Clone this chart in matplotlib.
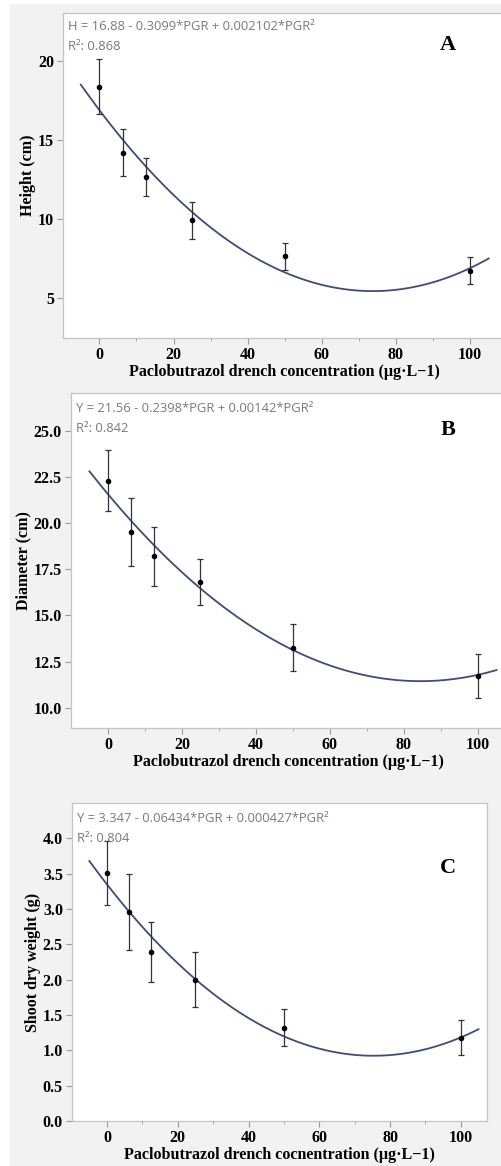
import numpy as np
import matplotlib
matplotlib.use("Agg")
import matplotlib.pyplot as plt
from matplotlib.patches import Rectangle

# doses of paclobutrazol (ug/L)
pgr = [0, 6.25, 12.5, 25, 50, 100]

# panel A - height (cm)
height_mean = [18.35, 14.2, 12.68, 9.92, 7.67, 6.75]
height_err = [1.72, 1.46, 1.2, 1.15, 0.85, 0.87]
height_coef = [16.88, -0.3099, 0.002102]

# panel B - diameter (cm)
diam_mean = [22.3, 19.5, 18.19, 16.79, 13.25, 11.73]
diam_err = [1.67, 1.83, 1.6, 1.25, 1.28, 1.19]
diam_coef = [21.56, -0.2398, 0.00142]

# panel C - shoot dry weight (g)
sdw_mean = [3.51, 2.96, 2.39, 2.0, 1.32, 1.18]
sdw_err = [0.45, 0.54, 0.43, 0.39, 0.26, 0.25]
sdw_coef = [3.347, -0.06434, 0.000427]

eq_a = "H = 16.88 - 0.3099*PGR + 0.002102*PGR\u00b2"
eq_b = "Y = 21.56 - 0.2398*PGR + 0.00142*PGR\u00b2"
eq_c = "Y = 3.347 - 0.06434*PGR + 0.000427*PGR\u00b2"
r2_a = "R\u00b2: 0.868"
r2_b = "R\u00b2: 0.842"
r2_c = "R\u00b2: 0.804"

serif = ["Liberation Serif", "DejaVu Serif"]
sans = ["Open Sans", "DejaVu Sans"]

W, H = 502, 1166
fig = plt.figure(figsize=(W / 100, H / 100), dpi=100)
fig.patch.set_facecolor("white")
fig.patches.append(Rectangle((10 / W, 0), 1, 1 - 4 / H, transform=fig.transFigure,
                             facecolor="#f2f2f2", edgecolor="none", zorder=-10))


def box(l, t, r, b):
    return [l / W, 1 - b / H, (r - l) / W, (b - t) / H]


def panel(pos, mean, err, coef, xlim, ylim, yticks, yfmt, ylabel, xlabel,
          eq, r2, letter, eq_xy, letter_xy, ylabelpad):
    ax = fig.add_axes(box(*pos))
    ax.set_facecolor("white")
    xs = np.linspace(-5, 105, 200)
    ax.plot(xs, coef[0] + coef[1] * xs + coef[2] * xs ** 2, color="#3e4d78", lw=1.3, zorder=2)
    ax.errorbar(pgr, mean, yerr=err, fmt="o", color="black", ecolor="#333333",
                elinewidth=0.9, capsize=2.2, capthick=0.9, markersize=3, zorder=3)
    ax.set_xlim(*xlim)
    ax.set_ylim(*ylim)
    ax.set_xticks([0, 20, 40, 60, 80, 100])
    ax.set_xticks([10, 30, 50, 70, 90], minor=True)
    ax.set_yticks(yticks)
    ax.set_yticklabels([yfmt.format(v) for v in yticks])
    for s in ax.spines.values():
        s.set_color("#c4c4c4")
        s.set_linewidth(0.9)
    ax.tick_params(which="major", length=4, color="#999999", labelsize=11.5, pad=2.5)
    ax.tick_params(which="minor", length=2.5, color="#999999")
    for lab in ax.get_xticklabels() + ax.get_yticklabels():
        lab.set_family(serif)
        lab.set_fontweight("bold")
    ax.set_xlabel(xlabel, family=serif, fontweight="bold", fontsize=11.5, labelpad=1)
    ax.set_ylabel(ylabel, family=serif, fontweight="bold", fontsize=11.5, labelpad=ylabelpad)
    fig.text(eq_xy[0] / W, 1 - eq_xy[1] / H, eq, family=sans, fontsize=9.4,
             color="#7a7a7a", va="center", ha="left")
    fig.text(eq_xy[0] / W, 1 - (eq_xy[1] + 20) / H, r2, family=sans, fontsize=9.4,
             color="#7a7a7a", va="center", ha="left")
    fig.text(letter_xy[0] / W, 1 - letter_xy[1] / H, letter, family=serif,
             fontweight="bold", fontsize=16, va="center", ha="center")
    return ax


xlab = "Paclobutrazol drench concentration (\u00b5g\u00b7L\u22121)"
xlab_c = "Paclobutrazol drench cocnentration (\u00b5g\u00b7L\u22121)"

panel((63, 13, 505, 338), height_mean, height_err, height_coef,
      (-9.8, 109.4), (2.5, 23.0), [5, 10, 15, 20], "{:.0f}", "Height (cm)", xlab,
      eq_a, r2_a, "A", (68, 27), (448, 45), 1)
panel((71, 393, 505, 728), diam_mean, diam_err, diam_coef,
      (-10.0, 107.3), (8.9, 27.04), [10, 12.5, 15, 17.5, 20, 22.5, 25], "{:.1f}",
      "Diameter (cm)", xlab, eq_b, r2_b, "B", (76, 409), (448, 430), 2)
panel((72, 803, 487, 1121), sdw_mean, sdw_err, sdw_coef,
      (-9.9, 107.4), (0, 4.5), [0, 0.5, 1, 1.5, 2, 2.5, 3, 3.5, 4], "{:.1f}",
      "Shoot dry weight (g)", xlab_c, eq_c, r2_c, "C", (77, 818), (448, 868), 1)

fig.savefig("out.png", dpi=100)
